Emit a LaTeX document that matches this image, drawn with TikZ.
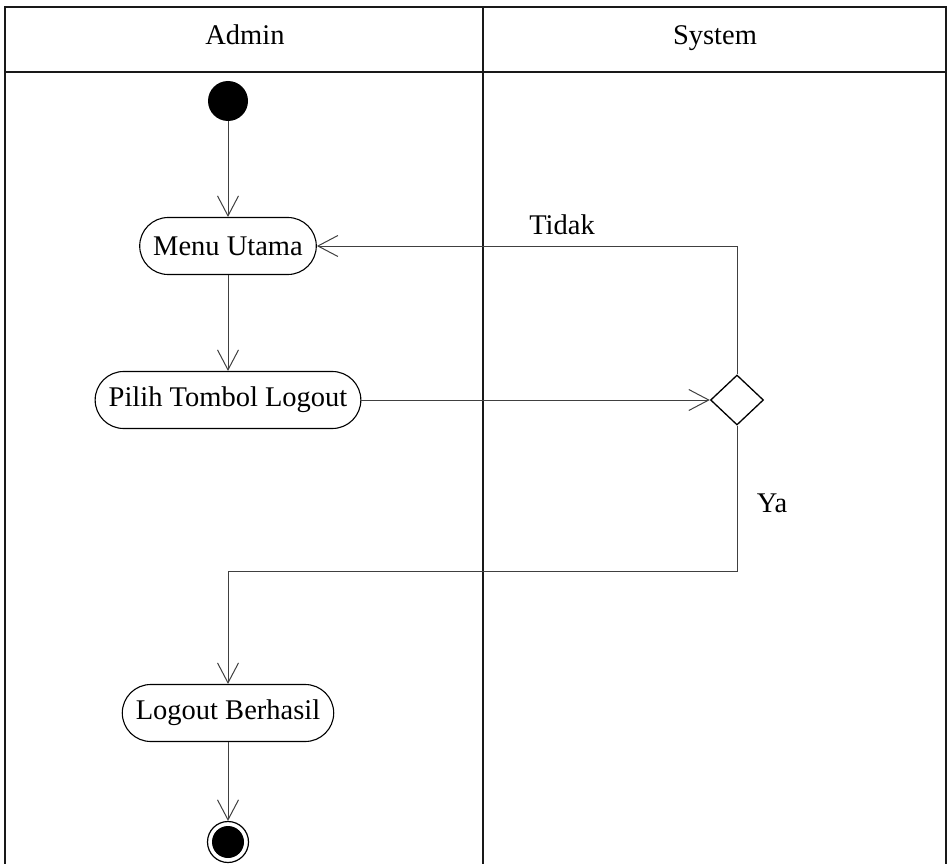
\documentclass[tikz,border=0pt]{standalone}
\usepackage{fontspec}
\setmainfont{Liberation Serif}
\usetikzlibrary{arrows.meta,shapes.geometric}
\begin{document}
\begin{tikzpicture}[x=1pt,y=-1pt,
  font=\fontsize{28.5}{33}\selectfont,
  lane/.style={line width=1.8pt,draw=black!90},
  header/.style={anchor=base},
  action/.style={draw,line width=1.1pt,rounded corners=28.5pt,minimum height=57pt,inner xsep=13.5pt},
  flow/.style={line width=1pt,draw=black!75,-{Straight Barb[length=20pt,width=21pt,line width=1pt]}},
  decision/.style={diamond,draw,line width=1.3pt,minimum width=53pt,minimum height=50pt,inner sep=0pt},
  startnode/.style={circle,fill=black,minimum size=40pt,inner sep=0pt},
  endnode/.style={circle,draw,line width=1.2pt,minimum size=41pt,inner sep=0pt,
    path picture={\fill[black] (path picture bounding box.center) circle (16pt);}},
  note/.style={text=black}
]
\useasboundingbox (0,0) rectangle (947,864);
\clip (0,0) rectangle (947,864);

% swimlane frame
\draw[lane] (5,880) -- (5,7) -- (946,7) -- (946,880);
\draw[lane] (5,72) -- (946,72);
\draw[lane] (483,7) -- (483,880);
\node[header] (hadmin) at (245,45) {Admin};
\node[header] (hsystem) at (715,45) {System};

% activities
\node[startnode] (start) at (228,101) {};
\node[action] (menu) at (228,246) {Menu Utama};
\node[action] (pilih) at (228,400) {Pilih Tombol Logout};
\node[decision] (dec) at (737,400) {};
\node[action] (berhasil) at (228,713) {Logout Berhasil};
\node[endnode] (stop) at (228,842) {};

\coordinate (tidakbend) at (737,246);
\coordinate (yabend1) at (737,571);
\coordinate (yabend2) at (228,571);

% flows
\draw[flow] (start) -- (menu);
\draw[flow] (menu) -- (pilih);
\draw[flow] (pilih) -- (dec.west);
\draw[flow] (dec.north) -- (tidakbend) -- (menu.east);
\draw[flow] (dec.south) -- (yabend1) -- (yabend2) -- (berhasil.north);
\draw[flow] (berhasil) -- (stop);

% guard labels
\node[note] (ltidak) at (562,225) {Tidak};
\node[note] (lya) at (772,503) {Ya};
\end{tikzpicture}
\end{document}
